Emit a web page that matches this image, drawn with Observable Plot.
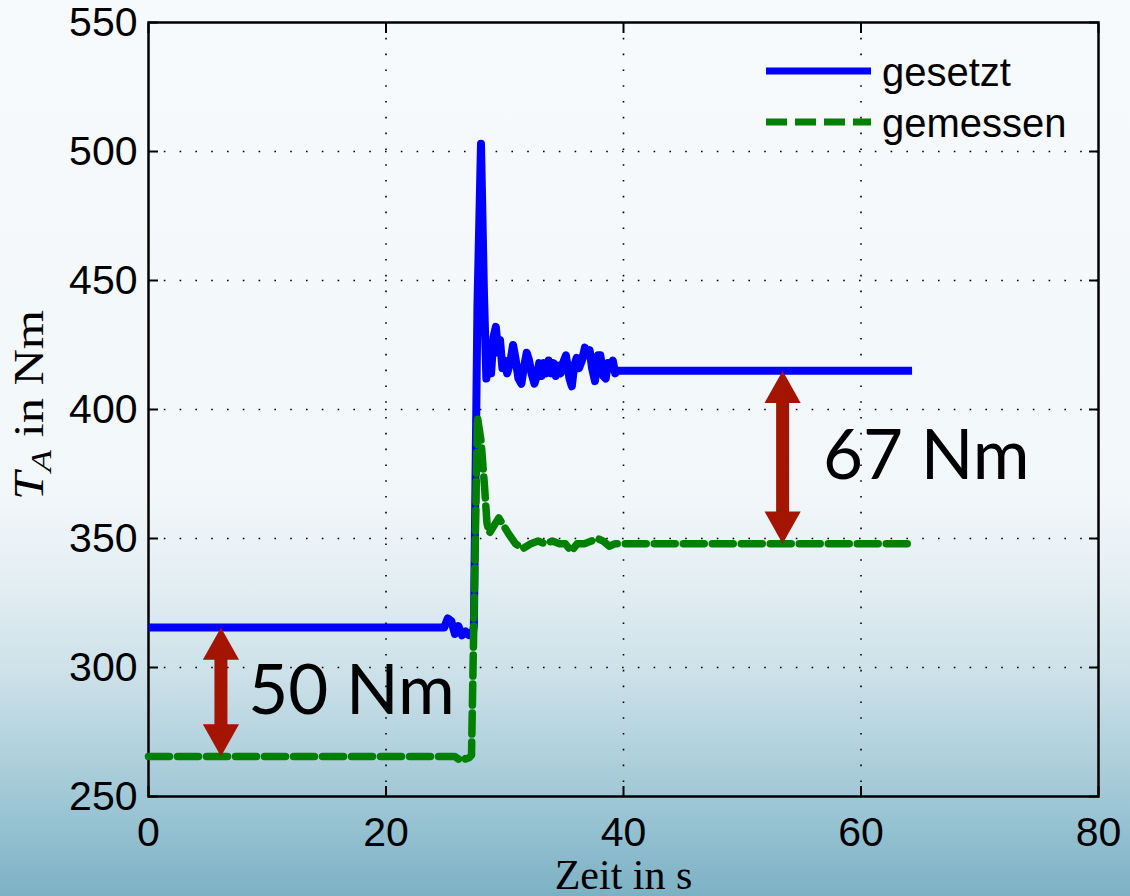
<!DOCTYPE html>
<html>
<head>
<meta charset="utf-8">
<script src="https://cdn.jsdelivr.net/npm/d3@7"></script>
<script src="https://cdn.jsdelivr.net/npm/@observablehq/plot@0.6"></script>
<style>
  html, body { margin: 0; padding: 0; }
  body {
    width: 1130px; height: 896px; overflow: hidden;
    background: linear-gradient(to bottom,
      #f7fafc 0%, #f2f7fa 55%, #e3eef3 65%, #cde1e9 75%,
      #adcfdb 85%, #93c0d0 93%, #7cb1c4 100%);
  }
  #chart svg { display: block; }
</style>
</head>
<body>
<div id="chart"></div>
<script>
// Set torque (gesetzt) over time, in s and Nm
const setTime = [0, 24.9, 25.2, 25.5, 25.8, 26.1, 26.4, 26.7, 27.0, 27.3, 27.4, 27.7, 28.0, 28.25, 28.45,
  28.65, 28.85, 29.05, 29.25, 29.45, 29.6, 29.8, 30.0, 30.2, 30.45, 30.7, 30.9, 31.15, 31.4, 31.6,
  31.85, 32.05, 32.25, 32.5, 32.7, 32.9, 33.1, 33.3, 33.5, 33.7, 33.9, 34.1, 34.3, 34.5, 34.7, 34.9,
  35.15, 35.45, 35.65, 35.85, 36.05, 36.25, 36.5, 36.75, 36.95, 37.15, 37.35, 37.6, 37.85, 38.05,
  38.3, 38.5, 38.7, 38.9, 39.1, 39.3, 39.5, 64.3];
const setTorque = [315.5, 315.5, 319, 318, 313, 316, 312.5, 314, 312.5, 313, 316, 440, 503, 445, 412,
  420, 414, 428, 432, 422, 427, 416, 419, 414, 418, 425, 420, 412, 410, 416,
  422, 419, 414, 410, 413, 418, 413, 418, 414, 419, 414, 418, 413, 417, 414, 418,
  421, 412, 409, 417, 420, 416, 419, 424, 421, 423, 416, 411, 421, 421,
  413, 412, 418, 416, 419, 414, 415, 415];

// Measured torque (gemessen) over time
const measTime = [0, 25.8, 26.1, 26.4, 26.7, 27.0, 27.2, 27.7, 28.0, 28.3, 28.5, 28.7, 29.1, 29.5,
  29.9, 30.3, 30.9, 31.5, 32.2, 32.8, 33.4, 34.0, 34.6, 35.1, 35.6, 36.1, 36.7, 37.3, 37.8, 38.3,
  38.8, 39.3, 64.0];
const measTorque = [265.5, 265.5, 264.5, 265.5, 264.5, 265, 266, 397, 388, 370, 356, 352, 355, 358,
  355, 352, 348, 346, 348, 349, 348, 349, 348, 348, 345, 348, 348, 349, 350, 349,
  347, 348, 348];

// Offset annotations between the two curves
const gapTime = [6.1, 53.4];
const gapLower = [265.5, 348];
const gapUpper = [315.5, 415];
const gapLabelTime = [8.4, 56.8];

// Axis ticks
const xTicks = [0, 20, 40, 60, 80];
const yTicks = [250, 300, 350, 400, 450, 500, 550];
const seriesNames = ["gesetzt", "gemessen"];

const setData = setTime.map((t, i) => ({t, v: setTorque[i]}));
const measData = measTime.map((t, i) => ({t, v: measTorque[i]}));
const gaps = gapTime.map((t, i) => ({
  t, lower: gapLower[i], upper: gapUpper[i],
  mid: (gapLower[i] + gapUpper[i]) / 2,
  labelT: gapLabelTime[i],
  label: `${Math.round(gapUpper[i] - gapLower[i])} Nm`
}));

const blue = "#0000ff";
const green = "#008000";
const arrowRed = "#a31500";

// Arrow heads with the tip at the symbol origin
const headUp = {
  draw(ctx, size) {
    const r = Math.sqrt(size / Math.PI);
    const w = 1.35 * r, h = 2.4 * r;
    ctx.moveTo(0, 0); ctx.lineTo(w, h); ctx.lineTo(-w, h); ctx.closePath();
  }
};
const headDown = {
  draw(ctx, size) {
    const r = Math.sqrt(size / Math.PI);
    const w = 1.35 * r, h = 2.4 * r;
    ctx.moveTo(0, 0); ctx.lineTo(w, -h); ctx.lineTo(-w, -h); ctx.closePath();
  }
};

const innerX = xTicks.slice(1, -1);
const innerY = yTicks.slice(1, -1);

const plot = Plot.plot({
  width: 1130,
  height: 896,
  marginLeft: 148,
  marginRight: 32,
  marginTop: 22,
  marginBottom: 100,
  x: {domain: [0, 80]},
  y: {domain: [250, 550]},
  style: {
    background: "transparent",
    fontFamily: "'Liberation Sans', Arial, sans-serif",
    fontSize: "41px",
    color: "black",
    overflow: "visible"
  },
  marks: [
    Plot.gridX(innerX, {stroke: "black", strokeOpacity: 1, strokeWidth: 1.6, strokeDasharray: "1.6,14.2"}),
    Plot.gridY(innerY, {stroke: "black", strokeOpacity: 1, strokeWidth: 1.6, strokeDasharray: "1.6,14.2"}),
    Plot.axisX(xTicks, {anchor: "bottom", tickSize: -10, tickPadding: 30, strokeWidth: 2, label: null}),
    Plot.axisY(yTicks, {anchor: "left", tickSize: -10, tickPadding: 21, strokeWidth: 2, label: null}),
    Plot.axisX(xTicks, {anchor: "top", tickSize: -10, strokeWidth: 2, fill: "none", label: null}),
    Plot.axisY(yTicks, {anchor: "right", tickSize: -10, strokeWidth: 2, fill: "none", label: null}),
    Plot.frame({stroke: "black", strokeWidth: 2.5}),
    // series
    Plot.line(setData, {x: "t", y: "v", stroke: blue, strokeWidth: 8, strokeLinejoin: "round", strokeLinecap: "butt"}),
    Plot.line(measData, {x: "t", y: "v", stroke: green, strokeWidth: 7.5, strokeDasharray: "21,8", strokeLinejoin: "round"}),
    // offset arrows
    Plot.ruleX(gaps, {x: "t", y1: "upper", y2: "lower", stroke: arrowRed, strokeWidth: 13, insetTop: 28, insetBottom: 28}),
    Plot.dot(gaps, {x: "t", y: "upper", symbol: headUp, r: 13.4, fill: arrowRed, stroke: "none"}),
    Plot.dot(gaps, {x: "t", y: "lower", symbol: headDown, r: 13.4, fill: arrowRed, stroke: "none"}),
    Plot.text(gaps, {x: "labelT", y: "mid", text: "label", textAnchor: "start", lineAnchor: "middle",
      fontFamily: "Lato, 'Open Sans', sans-serif", fontSize: 69, fill: "black"}),
    // x axis title
    Plot.text(["Zeit in s"], {frameAnchor: "bottom", dy: 92, lineAnchor: "bottom",
      fontFamily: "'Liberation Serif', 'DejaVu Serif', serif", fontSize: 42, fill: "black"})
  ]
});

document.getElementById("chart").appendChild(plot);

const svg = d3.select(plot);

// y axis title: T_A in Nm
const yTitle = svg.append("text")
  .attr("transform", "translate(43,405) rotate(-90) scale(1.2,1)")
  .attr("text-anchor", "middle")
  .attr("font-family", "'Liberation Serif', 'DejaVu Serif', serif")
  .attr("font-size", 42)
  .attr("fill", "black");
yTitle.append("tspan").attr("font-style", "italic").text("T");
yTitle.append("tspan").attr("font-style", "italic").attr("font-size", 30).attr("dy", 8).text("A");
yTitle.append("tspan").attr("dy", -8).text(" in Nm");

// legend
const legend = svg.append("g").attr("transform", "translate(766,71)");
const legendRows = [
  {name: seriesNames[0], color: blue, dash: null},
  {name: seriesNames[1], color: green, dash: "21,8"}
];
legendRows.forEach((d, i) => {
  const g = legend.append("g").attr("transform", `translate(0,${i * 51})`);
  g.append("line").attr("x1", 0).attr("x2", 105).attr("y1", 0).attr("y2", 0)
    .attr("stroke", d.color).attr("stroke-width", 7)
    .attr("stroke-dasharray", d.dash);
  g.append("text").attr("x", 116).attr("y", 15)
    .attr("text-anchor", "start")
    .attr("font-family", "'Liberation Sans', Arial, sans-serif")
    .attr("font-size", 40).attr("fill", "black").text(d.name);
});
</script>
</body>
</html>
